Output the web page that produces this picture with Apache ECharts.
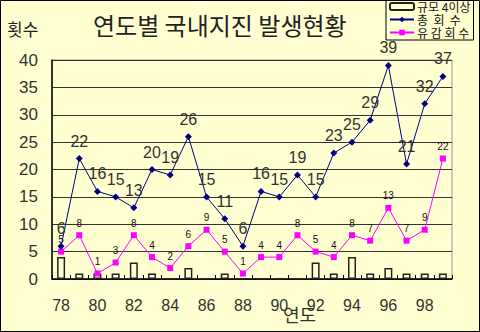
<!DOCTYPE html>
<html>
<head>
<meta charset="utf-8">
<script src="https://cdn.jsdelivr.net/npm/echarts@6/dist/echarts.min.js"></script>
<style>
  html, body { margin: 0; padding: 0; background: #FFFFD2; }
  #chart { width: 480px; height: 332px; }
</style>
</head>
<body>
<div id="chart"></div>
<script>
// 연도 (1978–1999)
const years = ['78','79','80','81','82','83','84','85','86','87','88','89','90','91','92','93','94','95','96','97','98','99'];
// 규모 4 이상 지진 횟수
const bigQuakes = [4,1,1,1,3,1,0,2,0,1,0,0,0,0,3,1,4,1,2,1,1,1];
// 총 발생 횟수
const totalCounts = [6,22,16,15,13,20,19,26,15,11,6,16,15,19,15,23,25,29,39,21,32,37];
// 유감 지진 횟수
const feltCounts = [5,8,1,3,8,4,2,6,9,5,1,4,4,8,5,4,8,7,13,7,9,22];
// y축 눈금
const yTicks = { min: 0, max: 40, step: 5 };

const BG = '#FFFFD2';
const KR = '"Noto Sans CJK KR", sans-serif';
const NUM = '"Liberation Sans", Arial, sans-serif';

const chart = echarts.init(document.getElementById('chart'), null, { renderer: 'svg' });

chart.setOption({
  backgroundColor: BG,
  animation: false,
  title: [
    { text: '연도별 국내지진 발생현황', left: 88, top: 7,
      textStyle: { fontFamily: KR, fontSize: 24, fontWeight: 'normal', color: '#222' } },
    { text: '횟수', left: 2, top: 15,
      textStyle: { fontFamily: KR, fontSize: 17, fontWeight: 'normal', color: '#222' } }
  ],
  legend: {
    orient: 'vertical',
    left: 386, top: -1,
    padding: [1, 3, 1, 3],
    itemGap: 0,
    itemWidth: 24, itemHeight: 7,
    backgroundColor: BG,
    borderColor: '#000', borderWidth: 1, borderRadius: 0,
    textStyle: { fontFamily: KR, fontSize: 12, lineHeight: 13, color: '#111', padding: [0, 0, 0, -2] },
    data: ['규모 4이상', '총  회  수', '유 감 회 수']
  },
  grid: { left: 52, right: 28, top: 60, bottom: 53, show: true,
          borderColor: '#999', borderWidth: 1, backgroundColor: 'transparent' },
  xAxis: {
    type: 'category',
    data: years,
    boundaryGap: true,
    axisLine: { lineStyle: { color: '#000', width: 1.5 } },
    axisTick: { show: true, inside: true, length: 4, interval: 0, lineStyle: { color: '#000' } },
    axisLabel: { interval: 1, margin: 18, fontFamily: NUM, fontSize: 16, color: '#333' },
    splitLine: { show: false }
  },
  yAxis: {
    type: 'value',
    min: yTicks.min, max: yTicks.max, interval: yTicks.step,
    axisLine: { show: true, lineStyle: { color: '#000', width: 1.5 } },
    axisTick: { show: false },
    axisLabel: { margin: 14, fontFamily: NUM, fontSize: 17, color: '#333' },
    splitLine: { lineStyle: { color: '#333', width: 1.2 } }
  },
  series: [
    {
      name: '규모 4이상',
      type: 'bar',
      data: bigQuakes,
      barWidth: 8,
      itemStyle: { color: BG, borderColor: '#222', borderWidth: 1.5 },
      z: 2
    },
    {
      name: '총  회  수',
      type: 'line',
      data: totalCounts,
      symbol: 'diamond',
      symbolSize: 7,
      lineStyle: { color: '#000080', width: 1 },
      itemStyle: { color: '#000080' },
      label: { show: true, position: 'top', distance: 6,
               fontFamily: NUM, fontSize: 16, color: '#333' },
      z: 4
    },
    {
      name: '유 감 회 수',
      type: 'line',
      data: feltCounts,
      symbol: 'rect',
      symbolSize: 6,
      lineStyle: { color: '#FF00FF', width: 1 },
      itemStyle: { color: '#FF00FF' },
      label: { show: true, position: 'top', distance: 4,
               fontFamily: NUM, fontSize: 10, color: '#111' },
      z: 3
    }
  ],
  graphic: [
    { type: 'text', left: 283, top: 305,
      style: { text: '연도', font: '18px ' + KR, fill: '#333' } },
    { type: 'rect', shape: { x: 0.5, y: 0.5, width: 479, height: 331 },
      style: { fill: 'none', stroke: '#000', lineWidth: 1 }, silent: true, z: 100 }
  ]
});
</script>
</body>
</html>
